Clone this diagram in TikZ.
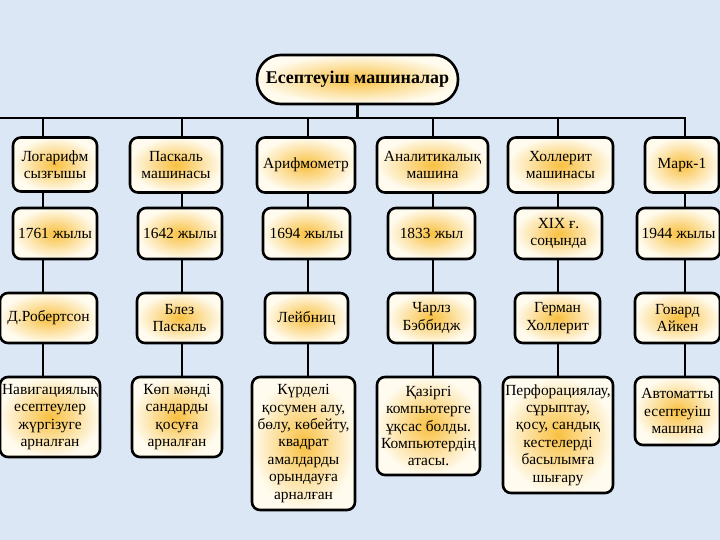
\documentclass[tikz,border=0pt]{standalone}
\usepackage{fontspec}
\setmainfont{Liberation Serif}

\definecolor{fundo}{RGB}{219,231,245}
\definecolor{brilho}{RGB}{249,192,64}
\definecolor{creme}{RGB}{255,251,238}

\tikzset{
	caixa/.style={draw, line width=2.6bp, rounded corners=8bp, shading=radial,
		inner color=brilho, outer color=creme, align=center, inner sep=1bp,
		font=\fontsize{15.5}{17.5}\selectfont},
	titulo/.style={caixa, rounded corners=24bp, font=\fontsize{18}{20}\selectfont\bfseries},
	linha/.style={line width=2.6bp}
}

\begin{document}
\begin{tikzpicture}[x=1bp, y=-1bp]

\fill[fundo] (0,0) rectangle (720,540);
\useasboundingbox (0,0) rectangle (720,540);

% Titulo
\node[titulo, minimum width=201bp, minimum height=49bp] (T) at (357.5,79.5) {Есептеуіш машиналар};

% Primeira linha: maquinas
\node[caixa, minimum width=84bp, minimum height=54bp] (a1) at (55,164.5) {Логарифм\\сызғышы};
\node[caixa, minimum width=92bp, minimum height=55bp] (a2) at (176,165) {Паскаль\\машинасы};
\node[caixa, minimum width=98bp, minimum height=55bp] (a3) at (306,165) {Арифмометр};
\node[caixa, minimum width=111bp, minimum height=55bp] (a4) at (432.5,165) {Аналитикалық\\машина};
\node[caixa, minimum width=105bp, minimum height=55bp] (a5) at (560.5,165) {Холлерит\\машинасы};
\node[caixa, minimum width=74bp, minimum height=55bp] (a6) at (682,165) {Марк-1};

% Segunda linha: anos
\node[caixa, minimum width=84bp, minimum height=51bp] (b1) at (55,233.5) {1761 жылы};
\node[caixa, minimum width=84bp, minimum height=51bp] (b2) at (180,233.5) {1642 жылы};
\node[caixa, minimum width=87bp, minimum height=51bp] (b3) at (306.5,233.5) {1694 жылы};
\node[caixa, minimum width=87bp, minimum height=51bp] (b4) at (431.5,233.5) {1833 жыл};
\node[caixa, minimum width=87bp, minimum height=51bp] (b5) at (558.5,233.5) {XIX ғ.\\соңында};
\node[caixa, minimum width=83bp, minimum height=51bp] (b6) at (678.5,233.5) {1944 жылы};

% Terceira linha: autores
\node[caixa, minimum width=97bp, minimum height=50bp] (c1) at (48.5,318) {Д.Робертсон};
\node[caixa, minimum width=85bp, minimum height=50bp] (c2) at (179.5,318) {Блез\\Паскаль};
\node[caixa, minimum width=83bp, minimum height=50bp] (c3) at (306.5,318) {Лейбниц};
\node[caixa, minimum width=87bp, minimum height=50bp] (c4) at (431.5,318) {Чарлз\\Бэббидж};
\node[caixa, minimum width=85bp, minimum height=50bp] (c5) at (557.5,318) {Герман\\Холлерит};
\node[caixa, minimum width=85bp, minimum height=50bp] (c6) at (677.5,318) {Говард\\Айкен};

% Quarta linha: finalidade
\node[caixa, minimum width=100bp, minimum height=80bp] (d1) at (50,417) {Навигациялық\\есептеулер\\жүргізуге\\арналған};
\node[caixa, minimum width=90bp, minimum height=80bp] (d2) at (177,417) {Көп мәнді\\сандарды\\қосуға\\арналған};
\node[caixa, minimum width=103bp, minimum height=133bp] (d3) at (303.5,443.5) {Күрделі\\қосумен алу,\\бөлу, көбейту,\\квадрат\\амалдарды\\орындауға\\арналған};
\node[caixa, minimum width=103bp, minimum height=98bp] (d4) at (428.5,426) {Қазіргі\\компьютерге\\ұқсас болды.\\Компьютердің\\атасы.};
\node[caixa, minimum width=110bp, minimum height=116bp] (d5) at (558,435) {Перфорациялау,\\сұрыптау,\\қосу, сандық\\кестелерді\\басылымға\\шығару};
\node[caixa, minimum width=85bp, minimum height=68bp] (d6) at (677.5,411) {Автоматты\\есептеуіш\\машина};

% Ligacoes
\coordinate (L0) at (0,118);
\foreach \i/\x in {1/43, 2/182, 3/308, 4/433, 5/558, 6/685}
	\coordinate (L\i) at (\x,118);

\draw[linha, line cap=rect] (L0) -- (L6);
\draw[linha] (T.south) -- (T.south |- L0);

\foreach \i in {1,...,6} {
	\draw[linha] (L\i) -- (a\i.north -| L\i);
	\draw[linha] (a\i.south -| L\i) -- (b\i.north -| L\i);
	\draw[linha] (b\i.south -| L\i) -- (c\i.north -| L\i);
	\draw[linha] (c\i.south -| L\i) -- (d\i.north -| L\i);
}
\end{tikzpicture}
\end{document}
